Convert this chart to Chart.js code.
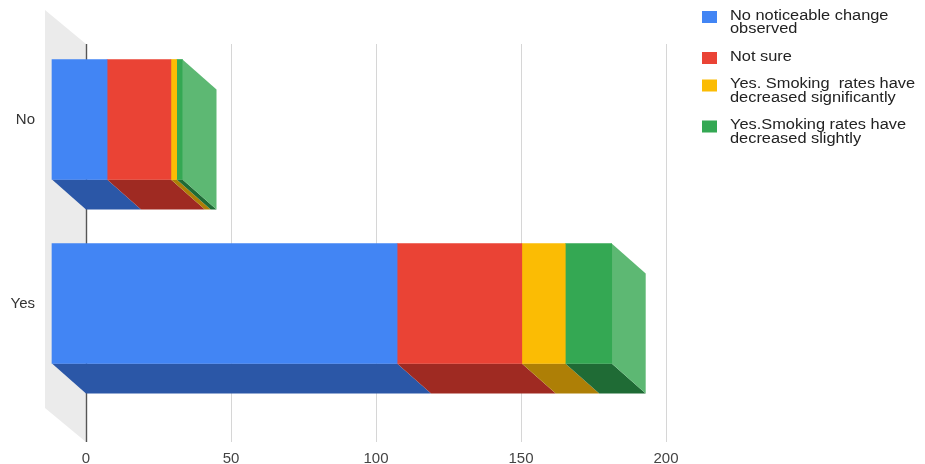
<!DOCTYPE html>
<html>
<head>
<meta charset="utf-8">
<script src="https://cdn.jsdelivr.net/npm/chart.js@4.4.1/dist/chart.umd.min.js"></script>
<style>
  html, body { margin: 0; padding: 0; background: #ffffff; }
  canvas { display: block; }
</style>
</head>
<body>
<canvas id="chart" width="925" height="464"></canvas>
<script>
// Survey answers, grouped by the Yes / No response
const categories = ['No', 'Yes'];
const seriesNames = [
  ['No noticeable change', 'observed'],
  ['Not sure'],
  ['Yes. Smoking  rates have', 'decreased significantly'],
  ['Yes.Smoking rates have', 'decreased slightly']
];
const noChange = [19, 119];
const notSure = [22, 43];
const decreasedSignificantly = [2, 15];
const decreasedSlightly = [2, 16];
const xTicks = [0, 50, 100, 150, 200];

// Face colours for the extruded bars
const frontColors = ['#4285F4', '#EA4335', '#FBBC04', '#34A853'];
const bottomColors = ['#2B57A7', '#9F2A22', '#AE7F06', '#1F6B35'];
const sideColors = ['#6C9EF0', '#EE6F63', '#FCCB4A', '#5DB873'];

// Depth of the 3D extrusion (front face sits up and to the left of the back plane)
const DEPTH_X = 34;
const DEPTH_Y = 30;
const FONT = '"Liberation Sans", Arial, sans-serif';

const seriesValues = [noChange, notSure, decreasedSignificantly, decreasedSlightly];

function poly(ctx, pts, color) {
  ctx.beginPath();
  ctx.moveTo(pts[0][0], pts[0][1]);
  for (let i = 1; i < pts.length; i++) ctx.lineTo(pts[i][0], pts[i][1]);
  ctx.closePath();
  ctx.fillStyle = color;
  ctx.fill();
}

const extrudedBars = {
  id: 'extrudedBars',
  beforeDatasetsDraw(chart) {
    const { ctx, chartArea, scales } = chart;
    const xs = scales.x;
    const frameTop = chartArea.top - 13.5;
    const frameBottom = chartArea.bottom + 16.5;
    const left = xs.getPixelForValue(0);

    ctx.save();
    // left side wall
    poly(ctx, [
      [left - 41, frameTop - 34],
      [left, frameTop],
      [left, frameBottom],
      [left - 41, frameBottom - 34]
    ], '#EBEBEB');

    // vertical grid lines on the back plane
    ctx.lineWidth = 1;
    xTicks.forEach(v => {
      if (v === 0) return;
      const px = Math.round(xs.getPixelForValue(v)) + 0.5;
      ctx.strokeStyle = '#D6D6D6';
      ctx.beginPath();
      ctx.moveTo(px, frameTop);
      ctx.lineTo(px, frameBottom);
      ctx.stroke();
    });
    // zero baseline
    const zx = Math.round(left) + 0.5;
    ctx.strokeStyle = '#555555';
    ctx.lineWidth = 1.4;
    ctx.beginPath();
    ctx.moveTo(zx, frameTop);
    ctx.lineTo(zx, frameBottom);
    ctx.stroke();

    // bottom faces of every segment, then the right-hand side face of each stack
    const metas = chart.getSortedVisibleDatasetMetas();
    const lastEnd = {};
    metas.forEach(meta => {
      meta.data.forEach((el, j) => {
        const p = el.getProps(['x', 'y', 'base', 'height'], true);
        const x0 = Math.min(p.x, p.base), x1 = Math.max(p.x, p.base);
        const yb = p.y + p.height / 2;
        if (x1 - x0 > 0) {
          poly(ctx, [
            [x0 - DEPTH_X, yb - DEPTH_Y],
            [x1 - DEPTH_X, yb - DEPTH_Y],
            [x1, yb],
            [x0, yb]
          ], bottomColors[meta.index]);
          if (!lastEnd[j] || x1 >= lastEnd[j].x) {
            lastEnd[j] = { x: x1, top: p.y - p.height / 2, bottom: yb, ds: meta.index };
          }
        }
      });
    });
    Object.values(lastEnd).forEach(e => {
      poly(ctx, [
        [e.x - DEPTH_X, e.top - DEPTH_Y],
        [e.x, e.top],
        [e.x, e.bottom],
        [e.x - DEPTH_X, e.bottom - DEPTH_Y]
      ], sideColors[e.ds]);
    });
    ctx.restore();

    // front faces are drawn by Chart.js, shifted onto the front plane
    ctx.save();
    ctx.translate(-DEPTH_X, -DEPTH_Y);
  },
  afterDatasetsDraw(chart) {
    chart.ctx.restore();
  },
  afterDraw(chart) {
    // legend on the right
    const { ctx } = chart;
    ctx.save();
    ctx.font = '14px ' + FONT;
    ctx.textBaseline = 'middle';
    ctx.textAlign = 'left';
    let y = 16;
    const lineStep = 13.5;
    seriesNames.forEach((lines, i) => {
      ctx.fillStyle = frontColors[i];
      ctx.fillRect(702, y - 5, 15, 12);
      ctx.fillStyle = '#222222';
      lines.forEach((line, k) => {
        ctx.save();
        ctx.translate(730, y + k * lineStep);
        ctx.scale(1.17, 1);
        ctx.fillText(line, 0, 0);
        ctx.restore();
      });
      y += lines.length * lineStep + 14;
    });
    ctx.restore();
  }
};

const datasets = seriesValues.map((vals, i) => ({
  label: seriesNames[i].join(' '),
  data: vals,
  backgroundColor: frontColors[i],
  borderWidth: 0,
  barThickness: 120,
  clip: false
}));

new Chart(document.getElementById('chart'), {
  type: 'bar',
  data: { labels: categories, datasets },
  options: {
    responsive: false,
    animation: false,
    indexAxis: 'y',
    layout: { autoPadding: false, padding: { top: 57.5, right: 259, bottom: 0, left: 0 } },
    plugins: {
      legend: { display: false },
      tooltip: { enabled: false }
    },
    scales: {
      x: {
        type: 'linear',
        stacked: true,
        min: 0,
        max: 200,
        grid: { display: false, drawTicks: false },
        border: { display: false },
        afterBuildTicks: s => { s.ticks = xTicks.map(v => ({ value: v })); },
        afterFit: s => { s.height = 38.5; },
        ticks: {
          padding: 24,
          color: '#444444',
          font: { family: FONT, size: 15 }
        }
      },
      y: {
        stacked: true,
        grid: { display: false, drawTicks: false },
        border: { display: false },
        afterFit: s => { s.width = 86; s.paddingTop = 0; s.paddingBottom = 0; },
        ticks: {
          padding: 51,
          labelOffset: -30,
          color: '#333333',
          font: { family: FONT, size: 15 }
        }
      }
    }
  },
  plugins: [extrudedBars]
});
</script>
</body>
</html>
